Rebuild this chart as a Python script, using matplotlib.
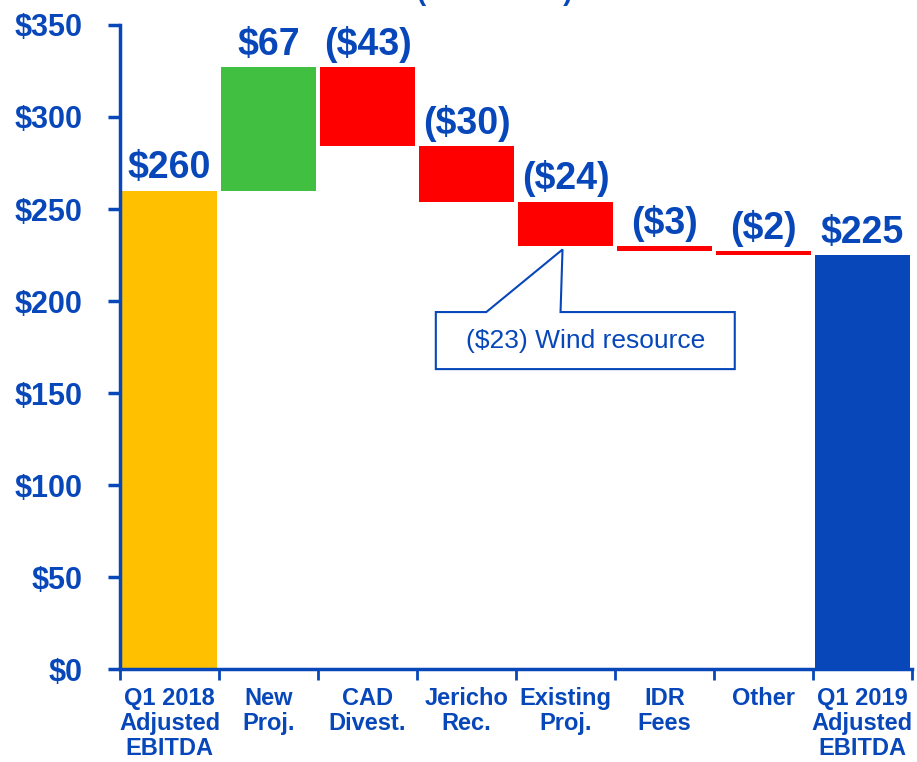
import matplotlib.pyplot as plt
from matplotlib.patches import Polygon

# waterfall data ($ millions)
categories = ["Q1 2018\nAdjusted\nEBITDA", "New\nProj.", "CAD\nDivest.", "Jericho\nRec.",
              "Existing\nProj.", "IDR\nFees", "Other", "Q1 2019\nAdjusted\nEBITDA"]
start_value = 260
changes = [67, -43, -30, -24, -3, -2]
end_value = 225
value_labels = ["$260", "$67", "($43)", "($30)", "($24)", "($3)", "($2)", "$225"]
y_ticks = [0, 50, 100, 150, 200, 250, 300, 350]
callout_text = "($23) Wind resource"

BLUE = "#0747BA"
YELLOW = "#FFC000"
GREEN = "#40BF40"
RED = "#FF0000"
FONT = ["Liberation Sans", "DejaVu Sans"]

# build floating bar bottoms/heights
bottoms, heights, colors, tops = [0], [start_value], [YELLOW], [start_value]
level = start_value
for c in changes:
    new_level = level + c
    bottoms.append(min(level, new_level))
    heights.append(abs(c))
    colors.append(GREEN if c > 0 else RED)
    tops.append(max(level, new_level))
    level = new_level
bottoms.append(0)
heights.append(end_value)
colors.append(BLUE)
tops.append(end_value)

fig = plt.figure(figsize=(9.17, 7.62), dpi=100)
ax = fig.add_axes([0.1309, 0.1220, 0.8636, 0.8452])

x = list(range(len(categories)))
ax.bar(x, heights, bottom=bottoms, color=colors, width=0.96, zorder=2)

for xi, top, lab in zip(x, tops, value_labels):
    ax.annotate(lab, (xi, top), xytext=(0, 3), textcoords="offset points",
                ha="center", va="bottom", fontsize=27, fontweight="bold",
                color=BLUE, family=FONT)

# callout for wind resource on the Existing Proj. bar
box = [(2.69, 163), (5.71, 163), (5.71, 194), (3.95, 194), (3.97, 228),
       (3.2, 194), (2.69, 194)]
ax.add_patch(Polygon(box, closed=True, facecolor="white", edgecolor=BLUE,
                     linewidth=1.5, zorder=3))
ax.text(4.2, 178.5, callout_text, ha="center", va="center", fontsize=19,
        color=BLUE, family=FONT, zorder=4)

ax.set_xlim(-0.5, 7.5)
ax.set_ylim(0, 350)
ax.set_yticks(y_ticks)
ax.set_yticklabels([f"${v}" for v in y_ticks], fontsize=22, fontweight="bold",
                   color=BLUE, family=FONT)
ax.set_xticks(x)
ax.set_xticklabels(categories, fontsize=17, fontweight="bold", color=BLUE,
                   family=FONT, linespacing=1.12)
ax.set_xticks([i - 0.5 for i in range(len(categories) + 1)], minor=True)
ax.tick_params(axis="x", which="major", length=0, pad=13)
ax.tick_params(axis="x", which="minor", length=8, width=2, color=BLUE, direction="out")
ax.tick_params(axis="y", length=9, width=2.5, color=BLUE, pad=18)

for side in ["top", "right"]:
    ax.spines[side].set_visible(False)
for side in ["left", "bottom"]:
    ax.spines[side].set_color(BLUE)
    ax.spines[side].set_linewidth(2.5)
    ax.spines[side].set_zorder(3)

# title is mostly cut off at the top of the slide, as in the source
fig.text(0.54, 1.0, "(in millions)", ha="center", va="baseline", fontsize=20,
         fontweight="bold", color=BLUE, family=FONT)

fig.savefig("out.png", dpi=100)
